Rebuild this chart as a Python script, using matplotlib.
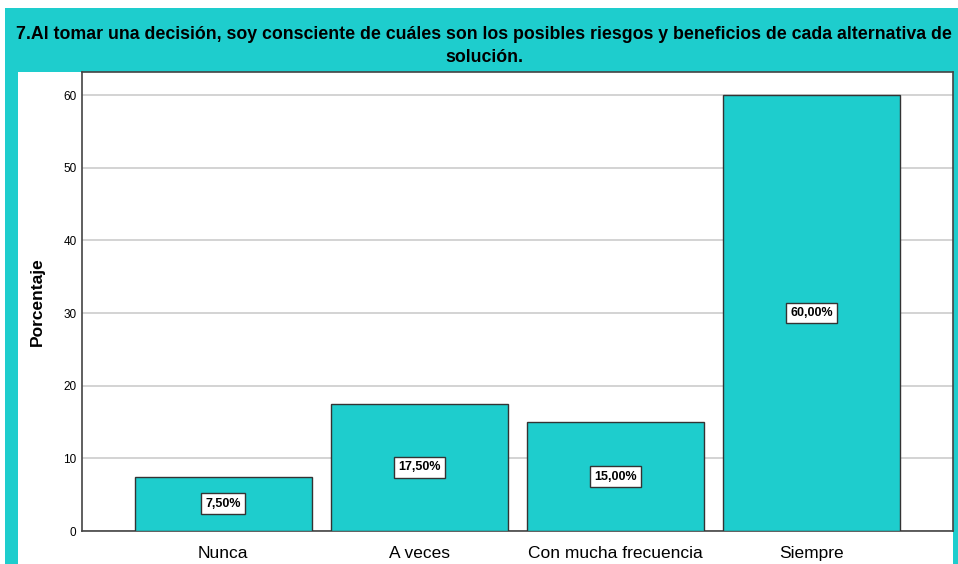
import matplotlib
matplotlib.use("Agg")
from matplotlib import pyplot as plt
from matplotlib.patches import Rectangle

categories = ["Nunca", "A veces", "Con mucha frecuencia", "Siempre"]
porcentajes = [7.5, 17.5, 15.0, 60.0]
etiquetas = ["7,50%", "17,50%", "15,00%", "60,00%"]
titulo = ("7.Al tomar una decisión, soy consciente de cuáles son los posibles riesgos y beneficios de cada alternativa de\n"
          "solución.")

teal = "#1ecdcd"
W, H = 958, 564
fuente = ["Liberation Sans", "DejaVu Sans"]

fig = plt.figure(figsize=(W / 100, H / 100), dpi=100)
fig.patch.set_facecolor("white")

# teal frame and white panel
fig.patches.append(Rectangle((5 / W, 0), 1 - 5 / W, 1 - 8 / H, transform=fig.transFigure,
                             facecolor=teal, edgecolor="none", zorder=-10))
fig.patches.append(Rectangle((18 / W, 0), 935 / W, 1 - 72 / H, transform=fig.transFigure,
                             facecolor="white", edgecolor="none", zorder=-9))

ax = fig.add_axes([82 / W, 1 - 531 / H, (953 - 82) / W, (531 - 72) / H])
ax.set_facecolor("white")

x = range(len(categories))
ax.bar(x, porcentajes, width=0.9, color=teal, edgecolor="#333333", linewidth=1, zorder=3)
for i, (v, t) in enumerate(zip(porcentajes, etiquetas)):
    ax.text(i, v / 2, t, ha="center", va="center", fontsize=9, fontweight="bold",
            family=fuente, zorder=5,
            bbox=dict(boxstyle="square,pad=0.35", facecolor="white", edgecolor="#333333", linewidth=1))

ax.set_xlim(-0.72, 3.72)
ax.set_ylim(0, 63.2)
ax.set_yticks([0, 10, 20, 30, 40, 50, 60])
ax.yaxis.grid(True, color="#cccccc", linewidth=1.2, zorder=0)
ax.set_axisbelow(True)
ax.set_xticks(list(x))
ax.set_xticklabels(categories, fontsize=12.5, family=fuente)
for lbl in ax.get_yticklabels():
    lbl.set_fontsize(8.5)
    lbl.set_family(fuente)
ax.tick_params(axis="x", length=0, pad=11)
ax.tick_params(axis="y", length=0, pad=4)
for s in ax.spines.values():
    s.set_color("#444444")
    s.set_linewidth(1.2)

ax.set_ylabel("Porcentaje", fontsize=12.5, fontweight="bold", family=fuente, labelpad=13)

fig.text(484 / W, 1 - 46 / H, titulo, ha="center", va="center", fontsize=12.8, fontweight="bold",
         family=fuente, linespacing=1.4)

plt.savefig("out.png", dpi=100)
